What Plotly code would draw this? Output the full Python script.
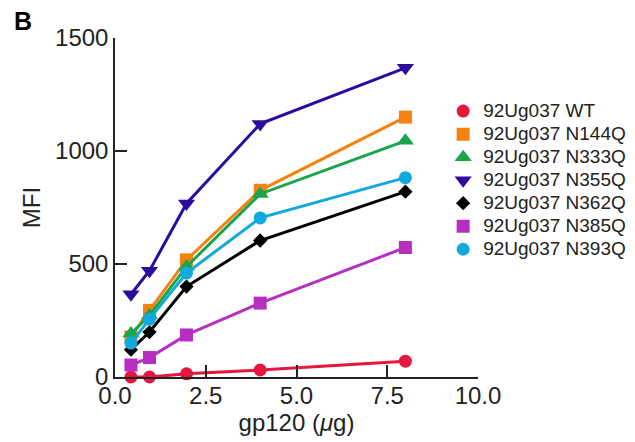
import plotly.graph_objects as go

# Data
gp120_ug = [0.44, 0.95, 1.97, 4.0, 8.0]

series_names = [
    "92Ug037 WT",
    "92Ug037 N144Q",
    "92Ug037 N333Q",
    "92Ug037 N355Q",
    "92Ug037 N362Q",
    "92Ug037 N385Q",
    "92Ug037 N393Q",
]

mfi_wt = [0, 0, 14, 31, 70]
mfi_n144q = [177, 295, 518, 826, 1150]
mfi_n333q = [192, 272, 488, 810, 1045]
mfi_n355q = [366, 470, 768, 1120, 1368]
mfi_n362q = [121, 199, 400, 604, 820]
mfi_n385q = [53, 86, 186, 327, 573]
mfi_n393q = [150, 256, 460, 704, 882]

series_values = [mfi_wt, mfi_n144q, mfi_n333q, mfi_n355q, mfi_n362q, mfi_n385q, mfi_n393q]

colors = ["#E5173F", "#F5820F", "#18A54B", "#2B0C9E", "#000000", "#B62FC0", "#12A9DC"]
symbols = ["circle", "square", "triangle-up", "triangle-down", "diamond", "square", "circle"]
sizes = [13, 13, 15, 15, 11, 13, 13]

x_ticks = [0, 2.5, 5, 7.5, 10]
x_ticklabels = ["0.0", "2.5", "5.0", "7.5", "10.0"]
y_ticks = [0, 500, 1000, 1500]
y_ticklabels = ["0", "500", "1000", "1500"]

FONT = "Liberation Sans, Arial, Helvetica, sans-serif"
TXT = "#222222"

fig = go.Figure()
for name, vals, c, s, sz in zip(series_names, series_values, colors, symbols, sizes):
    fig.add_trace(go.Scatter(
        x=gp120_ug, y=vals, name=name, mode="lines+markers",
        line=dict(color=c, width=3),
        marker=dict(color=c, symbol=s, size=sz, line=dict(width=0)),
        cliponaxis=False, showlegend=False,
    ))
# legend entries show the marker only, as in the reference
for name, c, s, sz in zip(series_names, colors, symbols, sizes):
    fig.add_trace(go.Scatter(
        x=[None], y=[None], mode="markers",
        name='<span style="font-size:19px">' + name + "</span>",
        marker=dict(color=c, symbol=s, size=sz, line=dict(width=0)),
        showlegend=True,
    ))

axis_common = dict(
    showline=True, linecolor=TXT, linewidth=1.5,
    ticks="inside", ticklen=12, tickwidth=1.5, tickcolor=TXT,
    showgrid=False, zeroline=False, automargin=False,
    tickfont=dict(family=FONT, size=24, color=TXT),
)

fig.update_layout(
    width=635, height=442,
    margin=dict(l=115, r=157, t=38, b=65, autoexpand=False),
    paper_bgcolor="white", plot_bgcolor="white",
    font=dict(family=FONT, color=TXT),
    xaxis=dict(
        range=[0, 10], tickvals=x_ticks, ticktext=x_ticklabels,
        ticklabelstandoff=-4,
        title=dict(text="gp120 (<i>μ</i>g)", font=dict(family=FONT, size=24, color=TXT), standoff=2),
        **axis_common,
    ),
    yaxis=dict(
        range=[0, 1500], tickvals=y_ticks, ticktext=y_ticklabels,
        title=dict(text="MFI", font=dict(family=FONT, size=24, color=TXT), standoff=8),
        **axis_common,
    ),
    legend=dict(
        x=0.904, xanchor="left", y=0.833, yanchor="top",
        font=dict(family=FONT, size=15.4, color=TXT),
        bgcolor="rgba(0,0,0,0)", tracegroupgap=0,
        itemsizing="trace",
    ),
    showlegend=True,
)

fig.add_annotation(
    text="<b>B</b>", xref="paper", yref="paper", x=-0.2548, y=1.0487,
    xanchor="center", yanchor="middle", showarrow=False,
    font=dict(family=FONT, size=25, color="#000000"),
)

fig.write_html("out.html", config={"displayModeBar": False},
               post_script="document.body.style.margin='0px';")
